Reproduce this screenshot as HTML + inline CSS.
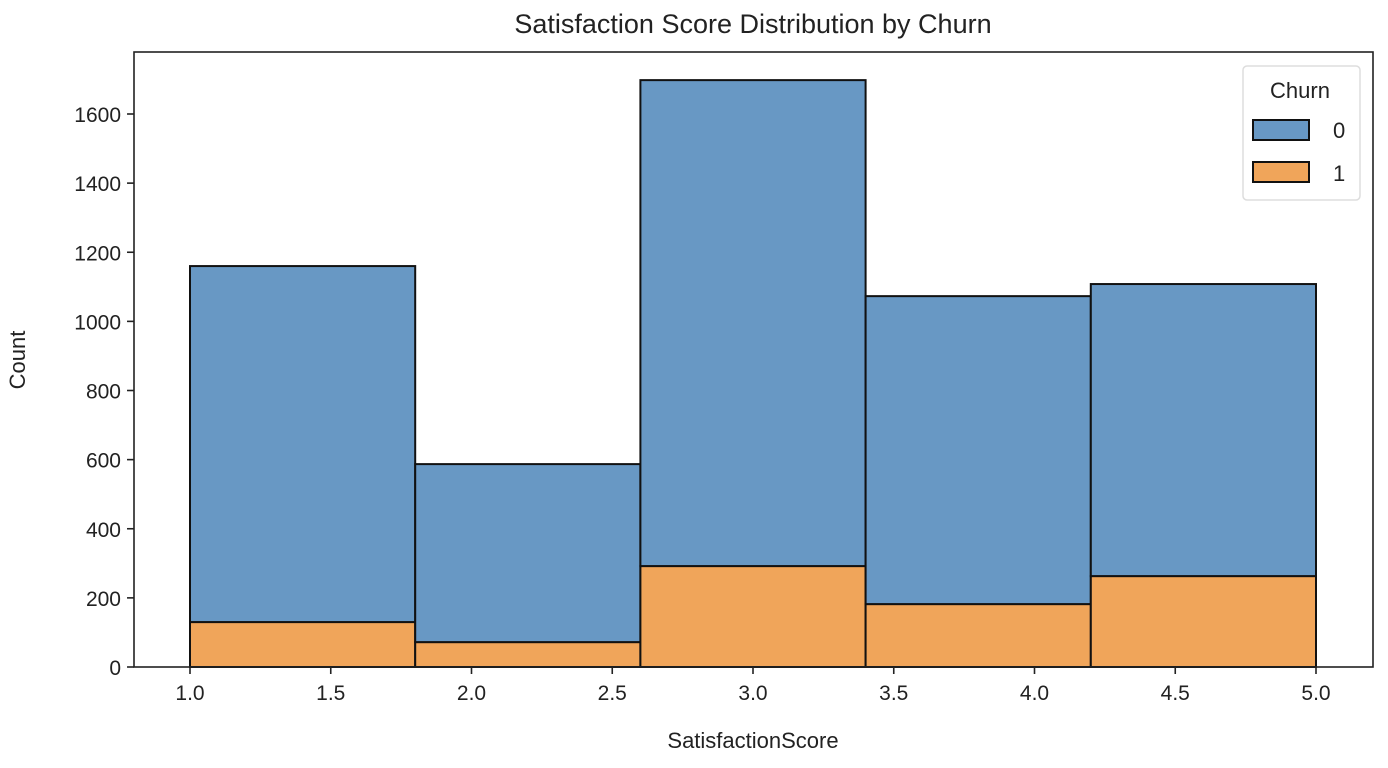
<!DOCTYPE html>
<html><head><meta charset="utf-8"><style>
body{margin:0;background:#fff;}
svg{display:block;font-family:"Liberation Sans","DejaVu Sans",sans-serif;}
</style></head><body>
<svg id="chart" width="1388" height="768"></svg>
<script>
const binEdges = [1.0, 1.8, 2.6, 3.4, 4.2, 5.0];
const churn0 = [1030, 515, 1406, 891, 845];
const churn1 = [130, 72, 292, 182, 263];
const yTicks = [0, 200, 400, 600, 800, 1000, 1200, 1400, 1600];
const xTicks = [1.0, 1.5, 2.0, 2.5, 3.0, 3.5, 4.0, 4.5, 5.0];

const NS = "http://www.w3.org/2000/svg";
const svg = document.getElementById("chart");
const L = 134, R = 1373, T = 52, B = 667;
const xs = v => 190 + (v - 1.0) * (1316 - 190) / 4;
const ys = v => B - v * (553 / 1600);
function mk(tag, attrs, parent) {
  const e = document.createElementNS(NS, tag);
  for (const k in attrs) e.setAttribute(k, attrs[k]);
  (parent || svg).appendChild(e);
  return e;
}
const C0 = "rgb(104,152,196)", C1 = "rgb(240,165,90)";
for (let i = 0; i < churn0.length; i++) {
  const x0 = xs(binEdges[i]), x1 = xs(binEdges[i + 1]);
  const r1 = mk("rect", {x: x0, y: ys(churn1[i]), width: x1 - x0, height: B - ys(churn1[i]), fill: C1, stroke: "#111", "stroke-width": 2});
  
  
  const tot = churn0[i] + churn1[i];
  const r0 = mk("rect", {x: x0, y: ys(tot), width: x1 - x0, height: ys(churn1[i]) - ys(tot), fill: C0, stroke: "#111", "stroke-width": 2});
  
  
}
const frame = mk("rect", {x: L, y: T, width: R - L, height: B - T, fill: "none", stroke: "#222", "stroke-width": 1.6});


yTicks.forEach(v => {
  const y = ys(v);
  mk("line", {x1: L - 7, x2: L, y1: y, y2: y, stroke: "#222", "stroke-width": 1.6});
  const t = mk("text", {x: L - 13, y: y + 8, "text-anchor": "end", "font-size": 21, fill: "#222"});
  t.textContent = v;
  
  
});
xTicks.forEach(v => {
  const x = xs(v);
  mk("line", {x1: x, x2: x, y1: B, y2: B + 7, stroke: "#222", "stroke-width": 1.6});
  const t = mk("text", {x: x, y: B + 33, "text-anchor": "middle", "font-size": 21, fill: "#222"});
  t.textContent = v.toFixed(1);
  
  
});
</script>
<svg style="position:absolute;left:0;top:0" width="1388" height="768">
<text x="753" y="33" text-anchor="middle" font-size="27" fill="#222" font-family="Liberation Sans, sans-serif">Satisfaction Score Distribution by Churn</text>
<text x="753" y="748" text-anchor="middle" font-size="22" fill="#222" font-family="Liberation Sans, sans-serif">SatisfactionScore</text>
<text transform="translate(25,360) rotate(-90)" text-anchor="middle" font-size="22" fill="#222" font-family="Liberation Sans, sans-serif">Count</text>
<g font-family="Liberation Sans, sans-serif">
<rect x="1243" y="66" width="117" height="134" rx="4" fill="#fff" fill-opacity="0.8" stroke="#ddd" stroke-width="1.5"/>
<text x="1300" y="98" text-anchor="middle" font-size="22" fill="#222">Churn</text>
<rect x="1253" y="120" width="56" height="20" fill="rgb(104,152,196)" stroke="#111" stroke-width="2"/>
<text x="1333" y="138" font-size="22" fill="#222">0</text>
<rect x="1253" y="162" width="56" height="20" fill="rgb(240,165,90)" stroke="#111" stroke-width="2"/>
<text x="1333" y="181" font-size="22" fill="#222">1</text>
</g>
</svg>
</body></html>
